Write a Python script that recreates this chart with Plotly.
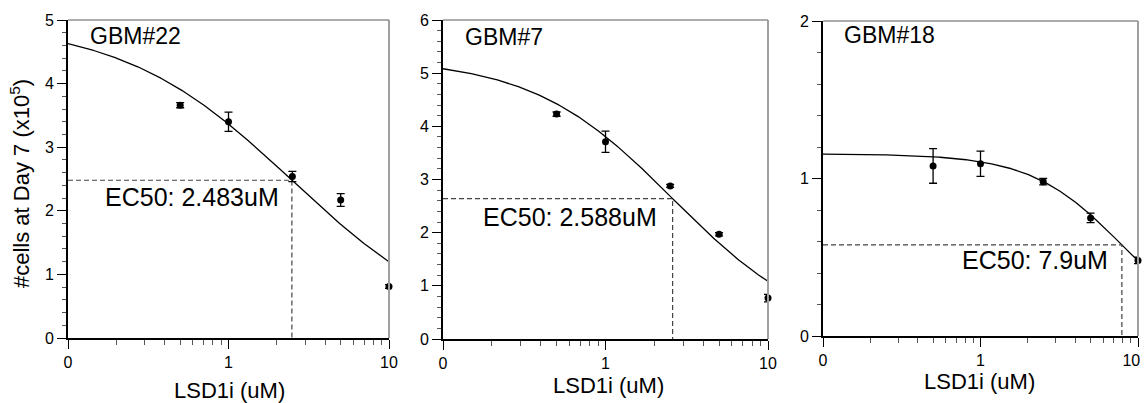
import numpy as np
import plotly.graph_objects as go

# ---------------- data ----------------
conc = [0.5, 1, 2.5, 5, 10]  # LSD1i (uM)

gbm22_mean = [3.66, 3.40, 2.54, 2.17, 0.81]
gbm22_err = [0.04, 0.15, 0.08, 0.10, 0.03]

gbm7_mean = [4.23, 3.71, 2.88, 1.97, 0.77]
gbm7_err = [0.04, 0.20, 0.03, 0.03, 0.07]

gbm18_mean = [1.08, 1.094, 0.98, 0.75, 0.48]
gbm18_err = [0.11, 0.08, 0.02, 0.03, 0.02]

# fitted dose-response parameters (top, bottom, EC50, hill)
fit22 = dict(top=4.96, bottom=0.0, ec50=2.483, hill=0.82)
fit7 = dict(top=5.28, bottom=0.0, ec50=2.588, hill=1.0)
fit18 = dict(top=1.156, bottom=0.0, ec50=7.9, hill=1.5)

panel_names = ["GBM#22", "GBM#7", "GBM#18"]
ec50_labels = ["EC50: 2.483uM", "EC50: 2.588uM", "EC50: 7.9uM"]
y_max = [5, 6, 2]
x_tickvals = [0.1, 1, 10]
x_ticktext = ["0", "1", "10"]
x_ticktext_last = ["0", "1", "10\u00a0\u00a0\u00a0"]  # last panel: label nudged inside the page
x_minor = [0.2, 0.3, 0.4, 0.5, 0.6, 0.7, 0.8, 0.9, 2, 3, 4, 5, 6, 7, 8, 9]

W, H = 1144, 403
FONT = "Arial, Liberation Sans, sans-serif"


def logistic(x, p):
    x = np.asarray(x, dtype=float)
    return p["bottom"] + (p["top"] - p["bottom"]) / (1 + (x / p["ec50"]) ** p["hill"])


# panel pixel boxes (left, right, top, bottom)
boxes = [(68, 389, 20, 338), (443, 768, 20, 339), (823, 1138, 21, 336)]

fig = go.Figure()
means = [gbm22_mean, gbm7_mean, gbm18_mean]
errs = [gbm22_err, gbm7_err, gbm18_err]
fits = [fit22, fit7, fit18]

xcurve = np.logspace(-1, 1, 300)

for i in range(3):
    xa = "x" if i == 0 else f"x{i+1}"
    ya = "y" if i == 0 else f"y{i+1}"
    p = fits[i]
    fig.add_trace(go.Scatter(x=xcurve, y=logistic(xcurve, p), mode="lines",
                             line=dict(color="black", width=1.3),
                             xaxis=xa, yaxis=ya, showlegend=False, hoverinfo="skip"))
    y50 = float(logistic([p["ec50"]], p)[0])
    fig.add_trace(go.Scatter(x=[0.1, p["ec50"], p["ec50"]], y=[y50, y50, 0], mode="lines",
                             line=dict(color="#444444", width=1.2, dash="5px,3px"),
                             xaxis=xa, yaxis=ya, showlegend=False, hoverinfo="skip",
                             cliponaxis=False))
    fig.add_trace(go.Scatter(x=conc, y=means[i], mode="markers",
                             marker=dict(color="black", size=7),
                             error_y=dict(type="data", array=errs[i], visible=True,
                                          color="black", thickness=1.3, width=4),
                             xaxis=xa, yaxis=ya, showlegend=False, cliponaxis=False))

layout = dict(
    template="none",
    width=W, height=H,
    margin=dict(l=0, r=0, t=0, b=0, pad=0, autoexpand=False),
    plot_bgcolor="white", paper_bgcolor="white",
    font=dict(family=FONT, color="black"),
    showlegend=False,
)

shapes = []
annotations = []
for i, (l, r, t, b) in enumerate(boxes):
    sfx = "" if i == 0 else str(i + 1)
    xdom = [l / W, r / W]
    ydom = [1 - b / H, 1 - t / H]
    layout["xaxis" + sfx] = dict(
        type="log", range=[-1, 1], domain=xdom, anchor="y" + sfx, automargin=False,
        tickmode="array", tickvals=x_tickvals,
        ticktext=x_ticktext_last if i == 2 else x_ticktext,
        ticks="outside", ticklen=9, tickwidth=1.3, tickcolor="black",
        ticklabeloverflow="allow",
        showline=True, linecolor="black", linewidth=2,
        showgrid=False, zeroline=False,
        tickfont=dict(size=16, family=FONT, color="black"),
        minor=dict(tickvals=x_minor, ticks="outside", ticklen=5, tickwidth=1,
                   tickcolor="#555555", showgrid=False),
    )
    layout["yaxis" + sfx] = dict(
        range=[0, y_max[i]], domain=ydom, anchor="x" + sfx, automargin=False,
        tickmode="linear", tick0=0, dtick=1,
        ticks="outside", ticklen=9, tickwidth=1.3, tickcolor="black",
        ticklabeloverflow="allow",
        showline=True, linecolor="black", linewidth=2,
        showgrid=False, zeroline=False,
        tickfont=dict(size=16, family=FONT, color="black"),
        minor=dict(dtick=0.2, ticks="outside", ticklen=4, tickwidth=1,
                   tickcolor="#555555", showgrid=False),
    )
    xd = "x" + sfx + " domain"
    yd = "y" + sfx + " domain"
    shapes.append(dict(type="line", xref=xd, yref=yd, x0=1, x1=1, y0=0, y1=1,
                       line=dict(color="#a0a0a0", width=2)))
    shapes.append(dict(type="line", xref=xd, yref=yd, x0=0, x1=1, y0=1, y1=1,
                       line=dict(color="#909090", width=1.5)))

for txt, cx, cy in zip(panel_names, [135.5, 503.5, 889], [36, 36.7, 35]):
    annotations.append(dict(text=txt, x=cx / W, y=1 - cy / H, xref="paper", yref="paper",
                            showarrow=False, xanchor="center", yanchor="middle",
                            font=dict(size=23, family=FONT, color="black")))
for txt, cx, cy in zip(ec50_labels, [191.5, 569.7, 1035], [196.7, 216.7, 260]):
    annotations.append(dict(text=txt, x=cx / W, y=1 - cy / H, xref="paper", yref="paper",
                            showarrow=False, xanchor="center", yanchor="middle",
                            font=dict(size=25, family=FONT, color="black")))
for cx, cy in zip([229.5, 608.8, 979.5], [390, 385, 381]):
    annotations.append(dict(text="LSD1i (uM)", x=cx / W, y=1 - cy / H, xref="paper", yref="paper",
                            showarrow=False, xanchor="center", yanchor="middle",
                            font=dict(size=22, family=FONT, color="black")))
annotations.append(dict(text="#cells at Day 7 (x10<sup>5</sup>)", x=20 / W, y=1 - 184 / H,
                        xref="paper", yref="paper", textangle=-90, showarrow=False,
                        xanchor="center", yanchor="middle",
                        font=dict(size=22, family=FONT, color="black")))

layout["shapes"] = shapes
layout["annotations"] = annotations
fig.update_layout(**layout)
fig.write_html("out.html", config={"displayModeBar": False},
               post_script="document.body.style.margin='0';document.body.style.overflow='hidden';")
